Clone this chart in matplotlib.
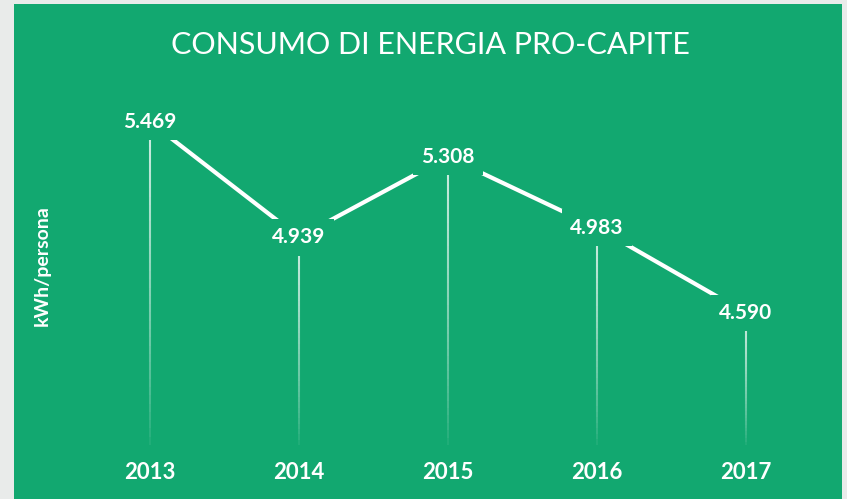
import matplotlib
matplotlib.use("Agg")
import matplotlib.pyplot as plt
import numpy as np

# Data
years = ["2013", "2014", "2015", "2016", "2017"]
values = [5.469, 4.939, 5.308, 4.983, 4.590]
value_labels = ["5.469", "4.939", "5.308", "4.983", "4.590"]

GREEN = "#12a870"

fig = plt.figure(figsize=(8.47, 4.99), dpi=100)
fig.patch.set_facecolor("#e9ebea")

# green panel as a background axes
bg = fig.add_axes([14 / 847, 0, (842 - 14) / 847, 495 / 499])
bg.set_facecolor(GREEN)
bg.set_xticks([])
bg.set_yticks([])
for s in bg.spines.values():
    s.set_visible(False)

ax = fig.add_axes([75.5 / 847, 54 / 499, 745 / 847, 385 / 499])
ax.set_facecolor("none")
x = np.arange(len(years))
ymin, ymax = 3.983, 5.754
ax.set_xlim(-0.5, 4.5)
ax.set_ylim(ymin, ymax)

# Drop lines fading toward the bottom
for xi, v in zip(x, values):
    ys = np.linspace(v, ymin, 40)
    for k in range(len(ys) - 1):
        a = 0.8 * (1 - k / (len(ys) - 1)) ** 0.7
        ax.plot([xi, xi], [ys[k], ys[k + 1]], color="white", lw=1.5,
                alpha=a, solid_capstyle="butt", zorder=2)

# Connecting line
ax.plot(x, values, color="white", lw=3, zorder=3)

# Value labels with green box masking the lines near the point
for xi, v, lab in zip(x, values, value_labels):
    ax.text(xi, v, lab, ha="center", va="center", color="white",
            fontsize=15, fontweight="bold", family="Lato", zorder=5,
            bbox=dict(boxstyle="square,pad=0.4", facecolor=GREEN,
                      edgecolor="none"))

ax.set_xticks(x)
ax.set_xticklabels(years, color="white", fontsize=16, fontweight="bold",
                   family="Lato")
ax.tick_params(axis="x", length=0, pad=12)
ax.set_yticks([])
for s in ax.spines.values():
    s.set_visible(False)

fig.text(430 / 847, 1 - 45 / 499, "CONSUMO DI ENERGIA PRO-CAPITE",
         ha="center", va="center", color="white", fontsize=22,
         family="Lato")
fig.text(42 / 847, 1 - 266 / 499, "kWh/persona", rotation=90,
         ha="center", va="center", color="white", fontsize=14,
         fontweight="bold", family="Lato")

fig.savefig("out.png", dpi=100)
